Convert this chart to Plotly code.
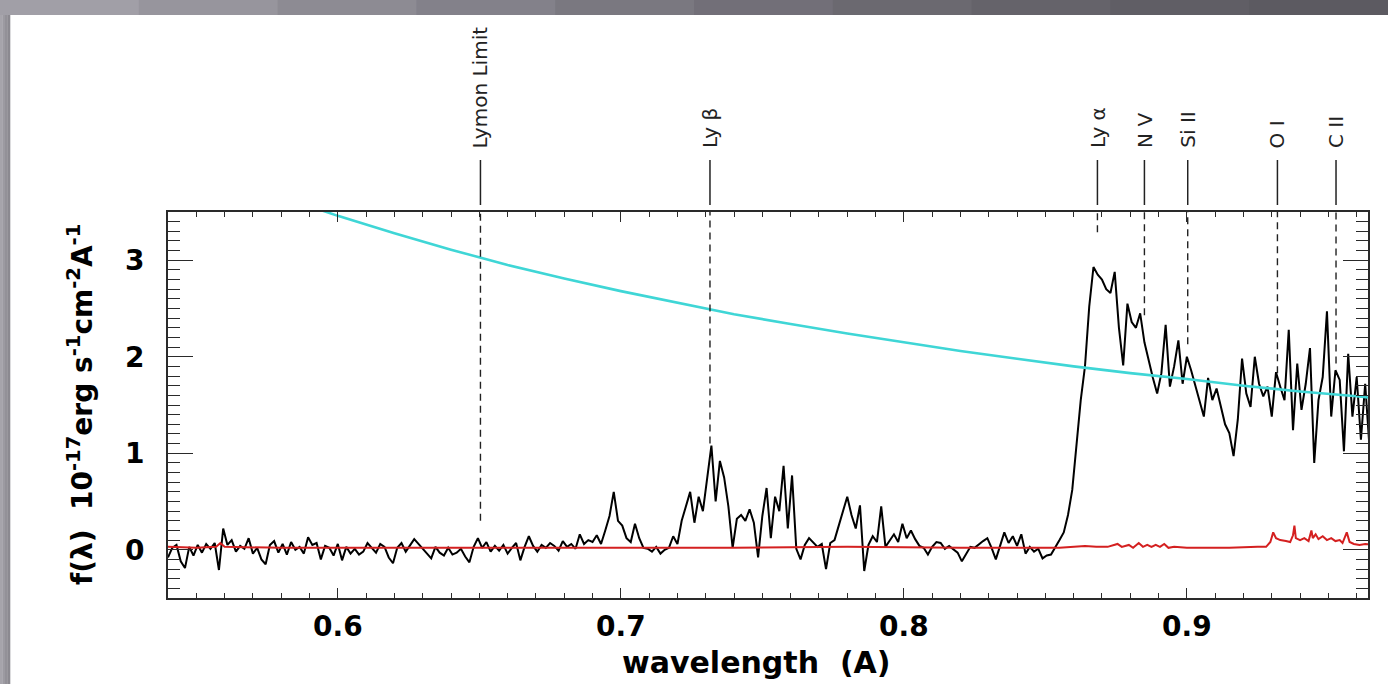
import plotly.graph_objects as go

# ---- observed spectrum (flux in 1e-17 erg/s/cm^2/A), sampled every 0.0015 from 0.540 ----
wave_start = 0.540
wave_step = 0.0015

flux_blue = [
    -0.08, 0.02, 0.05, -0.12, -0.19, 0.03, -0.06, 0.05, -0.03, 0.06,
    0.01, 0.07, -0.21, 0.22, 0.05, 0.10, -0.02, 0.04, 0.01, 0.12,
    -0.04, 0.02, -0.10, -0.15, 0.05, 0.09, -0.03, 0.06, -0.05, 0.08,
    0.00, 0.03, -0.04, 0.13, 0.05, 0.07, -0.10, 0.04, 0.02, -0.06,
    0.06, -0.11, 0.03, -0.04, 0.01, -0.05, -0.02, 0.07, 0.02, -0.03,
    0.06, 0.03, -0.08, -0.14, 0.02, 0.07, -0.02, 0.05, 0.11, 0.06,
    0.01, -0.04, -0.09, 0.03, -0.03, -0.06, 0.02, -0.05, -0.03, 0.01,
    -0.07, -0.13, 0.03, 0.12, 0.02, 0.08, -0.02, 0.04, -0.01, 0.05,
    -0.04, 0.02, 0.07, -0.11, 0.03, 0.14, 0.04, -0.02, 0.05, 0.02,
    0.07, 0.04, -0.01, 0.09, 0.03, 0.06, 0.01, 0.16, 0.06, 0.10,
]

flux_lyb = [
    0.08, 0.15, 0.06, 0.20, 0.35, 0.60, 0.30, 0.25, 0.12, 0.08,
    0.27, 0.12, 0.02, 0.01, -0.02, 0.03, -0.04, 0.00, 0.02, 0.14,
    0.06, 0.30, 0.45, 0.60, 0.28, 0.55, 0.40, 0.75, 1.08, 0.50,
    0.92, 0.75, 0.45, 0.02, 0.32, 0.36, 0.30, 0.42, 0.28, -0.08,
    0.35, 0.64, 0.12, 0.55, 0.40, 0.87, 0.22, 0.77, 0.01, -0.10,
    0.05, 0.12, 0.08, 0.03, 0.06, -0.20, 0.07, 0.10, 0.25, 0.40,
    0.55, 0.36, 0.22, 0.46, -0.22, 0.05, 0.14, 0.08, 0.45, 0.03,
    0.10, 0.16, 0.08, 0.27, 0.12, 0.20, 0.11, 0.04, 0.02, -0.05,
    0.03, 0.08, 0.07, 0.01, 0.04, 0.00, -0.03, -0.12, -0.04, 0.03,
    0.02, 0.06, 0.09, 0.12, 0.02, -0.10, 0.05, 0.18, 0.07, 0.14,
    0.04, 0.16, -0.04, 0.03, -0.02, 0.01, -0.09, -0.06, -0.05, 0.02,
]

flux_lya = [
    0.10, 0.18, 0.36, 0.62, 1.10, 1.55, 1.90, 2.52, 2.93, 2.85,
    2.80, 2.70, 2.66, 2.88, 2.30, 1.91, 2.55, 2.36, 2.30, 2.45,
    2.15, 1.95, 1.78, 1.62, 1.83, 2.33, 1.69, 1.90, 2.17, 1.72,
    2.00, 1.86, 1.69, 1.55, 1.38, 1.78, 1.55, 1.67, 1.48, 1.30,
    1.21, 0.97, 1.35, 1.98, 1.62, 1.48, 2.00, 1.72, 1.59, 1.69,
    1.38, 1.84, 1.69, 1.55, 2.28, 1.24, 1.93, 1.45, 1.72, 2.09,
    0.90, 1.55, 1.79, 2.47, 1.38, 1.86, 1.76, 1.02, 2.03, 1.38,
    1.79, 1.14, 1.72, 1.07, 1.60,
]

flux = flux_blue + flux_lyb + flux_lya
wave = [round(wave_start + wave_step * i, 4) for i in range(len(flux))]

# ---- 1-sigma error spectrum ----
err_wave = [
    0.540, 0.550, 0.557, 0.5585, 0.560, 0.580, 0.620, 0.660, 0.700, 0.740,
    0.780, 0.820, 0.855, 0.860, 0.864, 0.868, 0.872, 0.8755, 0.877, 0.8795,
    0.881, 0.883, 0.8845, 0.886, 0.8875, 0.889, 0.8905, 0.892, 0.8935, 0.8955,
    0.900, 0.905, 0.915, 0.925, 0.928, 0.9295, 0.9305, 0.9315, 0.933, 0.935,
    0.9365, 0.9375, 0.938, 0.9385, 0.940, 0.9415, 0.943, 0.944, 0.9445, 0.9455,
    0.9465, 0.948, 0.9495, 0.951, 0.9525, 0.954, 0.955, 0.9565, 0.9575, 0.959,
    0.961, 0.963, 0.966,
]
err_flux = [
    0.03, 0.02, 0.03, 0.07, 0.03, 0.02, 0.02, 0.02, 0.02, 0.02,
    0.03, 0.02, 0.02, 0.03, 0.04, 0.03, 0.03, 0.06, 0.03, 0.05,
    0.02, 0.07, 0.03, 0.05, 0.03, 0.05, 0.03, 0.06, 0.02, 0.03,
    0.02, 0.02, 0.02, 0.03, 0.03, 0.08, 0.18, 0.12, 0.10, 0.09,
    0.08, 0.15, 0.25, 0.12, 0.10, 0.12, 0.09, 0.20, 0.12, 0.16,
    0.11, 0.14, 0.10, 0.12, 0.09, 0.10, 0.07, 0.18, 0.08, 0.06,
    0.05, 0.06, 0.05,
]

# ---- continuum model ----
cont_wave = [0.58, 0.60, 0.62, 0.64, 0.66, 0.68, 0.70, 0.72, 0.74, 0.76,
             0.78, 0.80, 0.82, 0.84, 0.86, 0.88, 0.90, 0.92, 0.94, 0.96, 0.97]
cont_flux = [3.66, 3.46, 3.28, 3.11, 2.95, 2.81, 2.68, 2.56, 2.44, 2.34,
             2.24, 2.15, 2.06, 1.98, 1.90, 1.83, 1.77, 1.70, 1.64, 1.59, 1.56]

# ---- emission / absorption line markers ----
line_names = ["Lymon Limit", "Ly \u03b2", "Ly \u03b1", "N V", "Si II", "O I", "C II"]
line_wave = [0.6504, 0.7315, 0.8684, 0.8850, 0.9003, 0.9320, 0.9527]
line_dash_bottom = [0.30, 1.10, 3.29, 2.43, 2.13, 1.83, 1.93]

x_range = [0.540, 0.964]
y_range = [-0.5, 3.5]
x_ticks = [0.6, 0.7, 0.8, 0.9]
x_ticktext = ["0.6", "0.7", "0.8", "0.9"]
y_ticks = [0, 1, 2, 3]
y_ticktext = ["0", "1", "2", "3"]

AX = "#2a2a2a"

fig = go.Figure()
fig.add_trace(go.Scatter(x=wave, y=flux, mode="lines",
                         line=dict(color="black", width=2.0),
                         hoverinfo="skip"))
fig.add_trace(go.Scatter(x=err_wave, y=err_flux, mode="lines",
                         line=dict(color="#d42020", width=2.0),
                         hoverinfo="skip"))
fig.add_trace(go.Scatter(x=cont_wave, y=cont_flux, mode="lines",
                         line=dict(color="#3fd6d6", width=2.6),
                         hoverinfo="skip"))

shapes = []
annotations = []

# slide background bands around the figure
top_cols = ["#a19fa7", "#97959d", "#8d8b93", "#83818a", "#7a7880",
            "#726f78", "#6b6970", "#65636a", "#605e65", "#5c5a61"]
n = len(top_cols)
x0p, x1p = -168 / 1200, 1220 / 1200
for k, c in enumerate(top_cols):
    shapes.append(dict(type="rect", xref="paper", yref="paper", layer="below",
                       x0=x0p + (x1p - x0p) * k / n, x1=x0p + (x1p - x0p) * (k + 1) / n + 0.001,
                       y0=(598 - 15) / 386, y1=(598 + 2) / 386,
                       fillcolor=c, line=dict(width=0)))
left_cols = ["#a6a4ab", "#9c9aa1", "#939198", "#8b8990"]
for k, c in enumerate(left_cols):
    shapes.append(dict(type="rect", xref="paper", yref="paper", layer="below",
                       x0=(-168 + k * 2.5) / 1200, x1=(-168 + (k + 1) * 2.5 + 0.3) / 1200,
                       y0=(598 - 690) / 386, y1=(598 - 15) / 386,
                       fillcolor=c, line=dict(width=0)))

for name, wl, yb in zip(line_names, line_wave, line_dash_bottom):
    # solid tick above the frame
    shapes.append(dict(type="line", xref="x", yref="paper",
                       x0=wl, x1=wl, y0=(598 - 205) / 386, y1=(598 - 160) / 386,
                       line=dict(color="#222222", width=1.5)))
    # dashed drop line inside the frame
    shapes.append(dict(type="line", xref="x", yref="y",
                       x0=wl, x1=wl, y0=yb, y1=y_range[1],
                       line=dict(color="#222222", width=1.4, dash="7px,5px")))
    annotations.append(dict(text=name, x=wl, xref="x", y=(598 - 150) / 386, yref="paper",
                            xanchor="center", yanchor="bottom", textangle=-90,
                            showarrow=False,
                            font=dict(family="DejaVu Sans", size=20, color="#222222")))

annotations.append(dict(
    text="f(\u03bb)  10<sup>-17</sup>erg s<sup>-1</sup>cm<sup>-2</sup>A<sup>-1</sup>",
    x=(80 - 168) / 1200, xref="paper", y=0.5, yref="paper",
    xanchor="center", yanchor="middle", textangle=-90, showarrow=False,
    font=dict(family="DejaVu Sans", size=28, color="black", weight="bold")))
annotations.append(dict(
    text="wavelength  (A)", x=0.49, xref="paper", y=(598 - 662) / 386, yref="paper",
    xanchor="center", yanchor="middle", showarrow=False,
    font=dict(family="DejaVu Sans", size=30, color="black", weight="bold")))

axis_common = dict(showline=True, linecolor=AX, linewidth=1.6, mirror="allticks",
                   ticks="inside", tickcolor=AX, tickwidth=1.4, showgrid=False,
                   zeroline=False,
                   tickfont=dict(family="DejaVu Sans", size=28, color="black", weight="bold"))

fig.update_layout(
    width=1388, height=684,
    margin=dict(l=168, r=20, t=212, b=86),
    paper_bgcolor="white", plot_bgcolor="white",
    showlegend=False,
    shapes=shapes, annotations=annotations,
    xaxis=dict(range=x_range, tickvals=x_ticks, ticktext=x_ticktext, ticklen=10,
               ticklabelstandoff=3,
               minor=dict(dtick=0.01, tick0=0.5, ticks="inside", ticklen=5,
                          tickwidth=1.2, tickcolor=AX, showgrid=False),
               **axis_common),
    yaxis=dict(range=y_range, tickvals=y_ticks, ticktext=y_ticktext, ticklen=25,
               ticklabelstandoff=16,
               minor=dict(dtick=0.1, tick0=0, ticks="inside", ticklen=12,
                          tickwidth=1.2, tickcolor=AX, showgrid=False),
               **axis_common),
)

fig.write_html("out.html")
